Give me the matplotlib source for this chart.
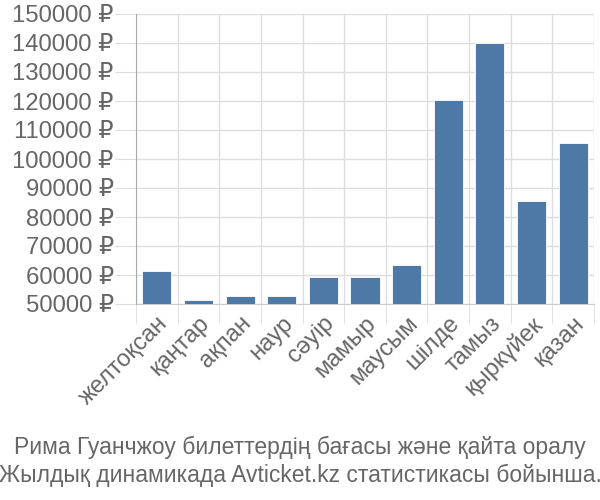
import matplotlib
matplotlib.use("Agg")
import matplotlib.pyplot as plt
import numpy as np

plt.rcParams['font.family'] = ['Liberation Sans', 'DejaVu Sans']

categories = ["желтоқсан", "қаңтар", "ақпан", "наур", "сәуір", "мамыр",
              "маусым", "шілде", "тамыз", "қыркүйек", "қазан"]
values = [61400, 51400, 52900, 52900, 59400, 59400, 63400, 120300, 140000, 85400, 105600]
yticks = list(range(50000, 150001, 10000))
caption = ["Рима Гуанчжоу билеттердің бағасы және қайта оралу",
           "Жылдық динамикада Avticket.kz статистикасы бойынша."]

fig = plt.figure(figsize=(6, 5), dpi=100)
ax = fig.add_axes([136/600, 1-304/500, (594-136)/600, (304-14)/500])

x = np.arange(len(categories))
ax.bar(x, values, width=0.7, color="#4e79a7", edgecolor="#ffffff", linewidth=0.6, zorder=3)
ax.set_xlim(-0.5, len(categories) - 0.5)
ax.set_ylim(50000, 150000)

ax.set_yticks(yticks)
ax.set_yticklabels([f"{v} ₽" for v in yticks])
ax.set_xticks(x)
ax.set_xticklabels(categories, rotation=45, ha='right', va='top', rotation_mode='anchor')
ax.set_xticks(np.arange(-0.5, len(categories), 1), minor=True)

ax.grid(True, which='major', axis='y', color='#dddddd', linewidth=1, zorder=0)
ax.grid(True, which='minor', axis='x', color='#dddddd', linewidth=1, zorder=0)
ax.tick_params(axis='y', which='major', length=15, color='#dddddd', labelsize=17.2,
               labelcolor='#666666', pad=1)
ax.tick_params(axis='x', which='major', length=0, labelsize=17.2, labelcolor='#666666', pad=6)
ax.tick_params(axis='x', which='minor', length=14, color='#dddddd')

for s in ['top', 'right']:
    ax.spines[s].set_visible(False)
ax.spines['left'].set_color('#aaaaaa')
ax.spines['bottom'].set_color('#cccccc')
ax.spines['left'].set_zorder(4)

for i, line in enumerate(caption):
    fig.text(0.5, 1 - (447 + i * 28) / 500, line, ha='center', va='center',
             fontsize=16.5, color='#666666')

fig.savefig("out.png", dpi=100)
